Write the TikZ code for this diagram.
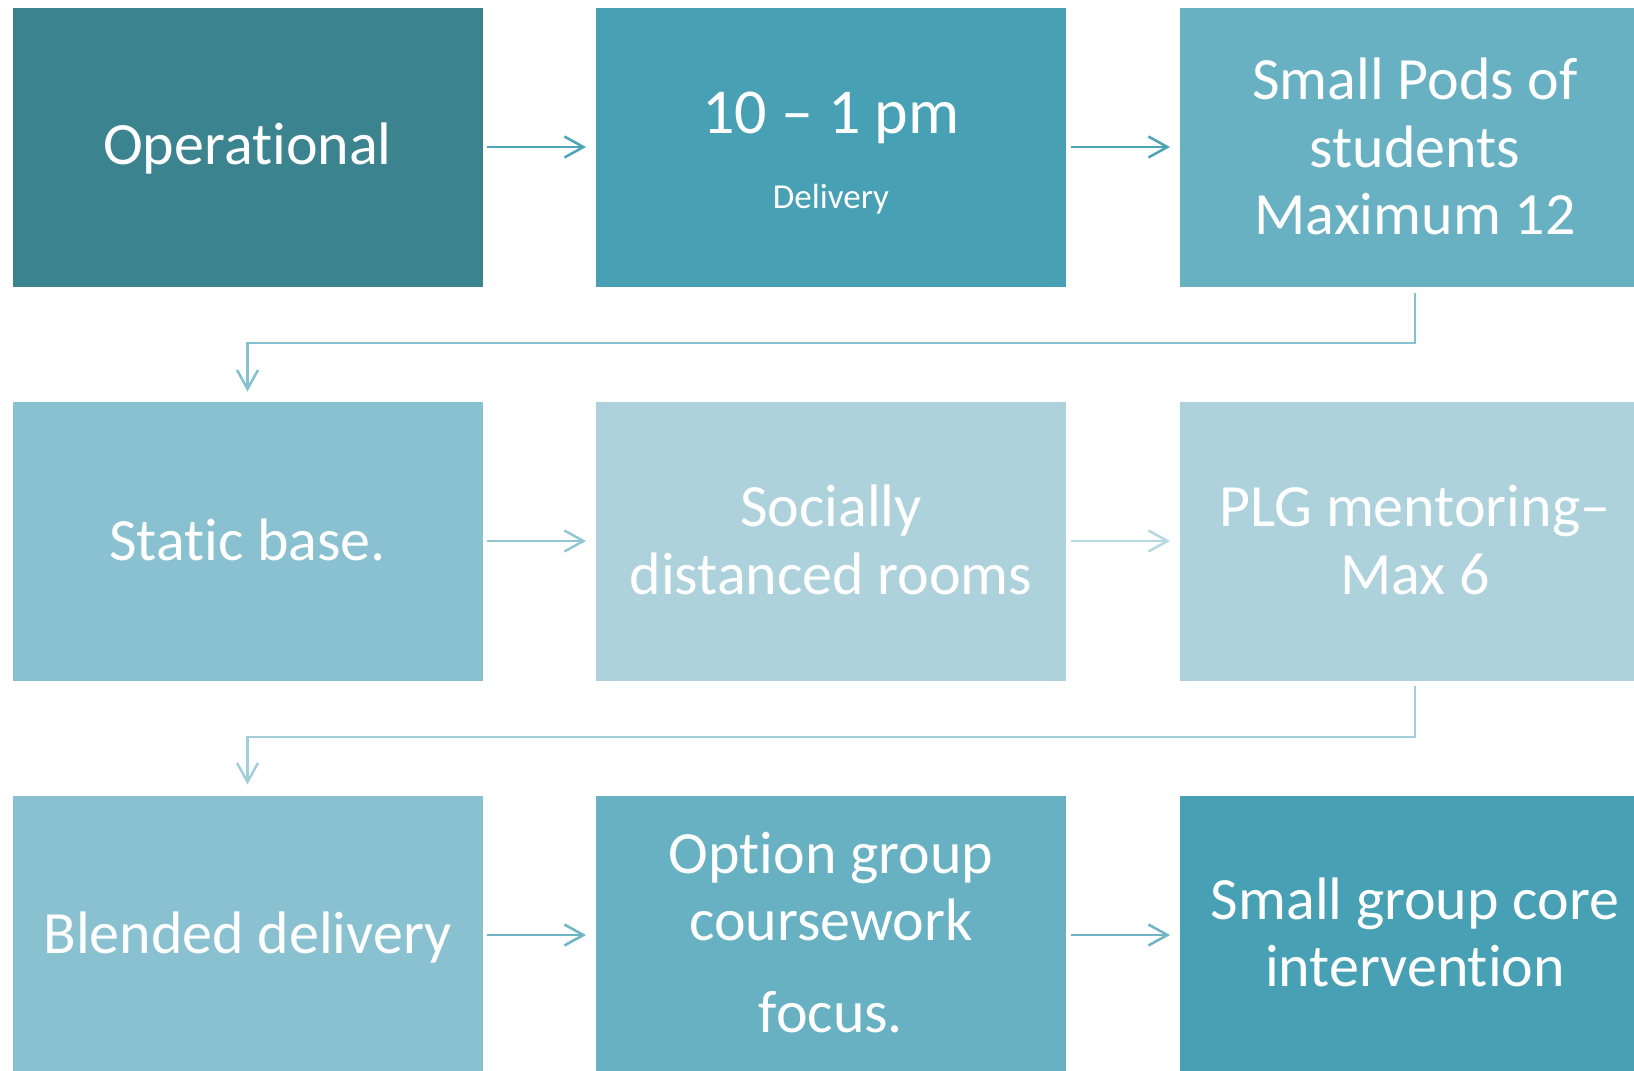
\documentclass[tikz,border=0pt]{standalone}
\usepackage{fontspec}
\setmainfont{Carlito}[Ligatures={NoCommon}]
\usetikzlibrary{arrows.meta}
\definecolor{cA}{HTML}{3A838F}
\definecolor{cB}{HTML}{47A0B4}
\definecolor{cC}{HTML}{67B1C3}
\definecolor{cD}{HTML}{8AC1D0}
\definecolor{cE}{HTML}{ADD2DC}
\definecolor{aOne}{HTML}{4CA4B6}
\definecolor{aTwo}{HTML}{86C1CF}
\definecolor{aThreeA}{HTML}{92C6D3}
\definecolor{aThreeB}{HTML}{B5D8E1}
\definecolor{aFour}{HTML}{A2CFDA}
\definecolor{aFive}{HTML}{70B5C6}
\begin{document}
\begin{tikzpicture}[x=1pt,y=-1pt,
  box/.style={minimum width=470pt, minimum height=279pt, inner sep=0pt, outer sep=0pt, draw=none},
  txt/.style={text=white, anchor=base, inner sep=0pt, font=\fontsize{60}{68}\selectfont},
  bigtxt/.style={text=white, anchor=base, inner sep=0pt, font=\fontsize{64}{72}\selectfont},
  subtxt/.style={text=white, anchor=base, inner sep=0pt, font=\fontsize{35}{40}\selectfont},
  arr/.style={line width=2.5pt, -{Straight Barb[length=19pt,width=21pt]}}]
\useasboundingbox (0,0) rectangle (1634,1071);
\clip (0,0) rectangle (1634,1071);
% boxes
\node[box, fill=cA] (b1) at (247.5,147) {};
\node[box, fill=cB] (b2) at (831,147) {};
\node[box, fill=cC] (b3) at (1415,147) {};
\node[box, fill=cD] (b4) at (247.5,541) {};
\node[box, fill=cE] (b5) at (831,541) {};
\node[box, fill=cE] (b6) at (1415,541) {};
\node[box, fill=cD] (b7) at (247.5,935) {};
\node[box, fill=cC] (b8) at (831,935) {};
\node[box, fill=cB] (b9) at (1415,935) {};
% texts
\node[txt] (t1) at (247.5,164) {Operational};
\node[bigtxt] (t2a) at (831,133) {10 – 1 pm};
\node[subtxt] (t2b) at (831,208) {Delivery};
\node[txt] (t3a) at (1415,99) {Small Pods of};
\node[txt] (t3b) at (1415,167) {students};
\node[txt] (t3c) at (1415,234) {Maximum 12};
\node[txt] (t4) at (247.5,560) {Static base.};
\node[txt] (t5a) at (831,526) {Socially};
\node[txt] (t5b) at (831,594) {distanced rooms};
\node[txt] (t6a) at (1415,526) {PLG mentoring–};
\node[txt] (t6b) at (1415,594) {Max 6};
\node[txt] (t7) at (247.5,953) {Blended delivery};
\node[txt] (t8a) at (831,873) {Option group};
\node[txt] (t8b) at (831,940) {coursework};
\node[txt] (t8c) at (831,1032) {focus.};
\node[txt] (t9a) at (1415,919) {Small group core};
\node[txt] (t9b) at (1415,986) {intervention};
% connectors
\draw[arr, draw=aOne, shorten <=4.5pt, shorten >=10pt] (b1.east) -- (b2.west);
\draw[arr, draw=aOne, shorten <=4.5pt, shorten >=10pt] (b2.east) -- (b3.west);
\draw[arr, draw=aTwo, shorten <=6pt, shorten >=10pt] (b3.south) -- ++(0,56.4) -| (b4.north);
\draw[arr, draw=aThreeA, shorten <=4.5pt, shorten >=10pt] (b4.east) -- (b5.west);
\draw[arr, draw=aThreeB, shorten <=4.5pt, shorten >=10pt] (b5.east) -- (b6.west);
\draw[arr, draw=aFour, shorten <=5.5pt, shorten >=11pt] (b6.south) -- ++(0,56.5) -| (b7.north);
\draw[arr, draw=aFive, shorten <=4.5pt, shorten >=10pt] (b7.east) -- (b8.west);
\draw[arr, draw=aFive, shorten <=4.5pt, shorten >=10pt] (b8.east) -- (b9.west);
\end{tikzpicture}
\end{document}
